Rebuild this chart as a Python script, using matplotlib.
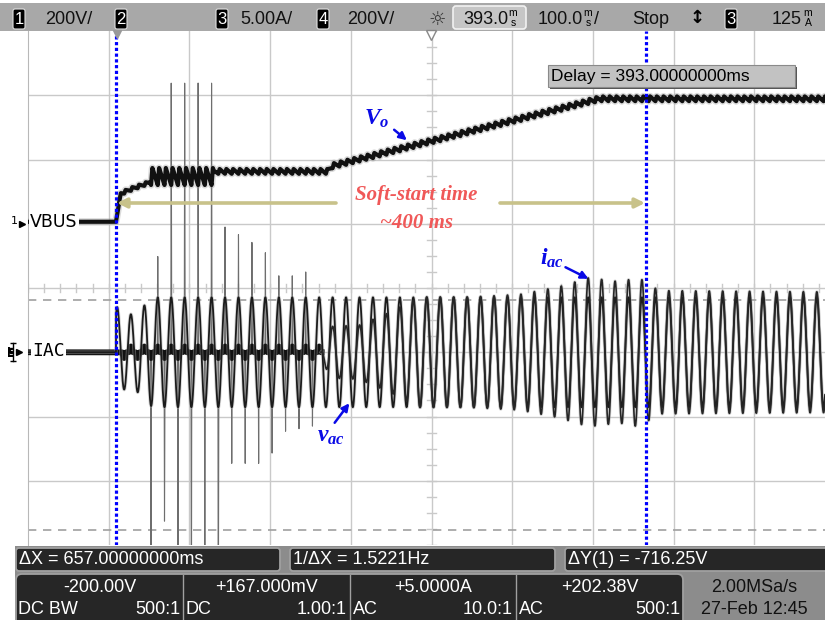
import numpy as np
import matplotlib
matplotlib.use("Agg")
import matplotlib.pyplot as plt
from matplotlib.patches import Rectangle, FancyBboxPatch, FancyArrowPatch

plt.rcParams['font.family'] = ['Liberation Sans', 'DejaVu Sans']
plt.rcParams['mathtext.fontset'] = 'custom'
plt.rcParams['mathtext.it'] = 'Liberation Serif:italic:bold'
plt.rcParams['mathtext.rm'] = 'Liberation Serif:bold'

# ---- scope settings ----
TIME_PER_DIV = 100.0      # ms/div
DELAY_MS = 393.0
SCREEN_LEFT = -109.0      # ms, relative to trigger
N_DIV_X = 9.876           # visible horizontal divisions
LINE_FREQ = 60.0          # Hz
CREST_T = 1.8             # ms, first line crest after trigger
HALF_CYCLE = 1000.0 / LINE_FREQ / 2.0

CH1_SCALE, CH1_POS = 200.0, 1.03      # VBUS, V/div, ground position (div)
CH3_SCALE, CH4_SCALE, CH34_POS = 5.0, 200.0, -1.0

# ---- VBUS: mean level and 120 Hz ripple (peak-peak) ----
vbus_t = [-109, 0, 6, 20, 41, 43, 120, 124, 262, 268, 599, 880]
vbus_mean = [0, 0, 88, 103, 122, 141, 141, 157, 157, 174, 383, 383]
vbus_rip_t = [0, 5, 41, 43, 120, 124, 880]
vbus_rip = [0, 10, 10, 53, 53, 15, 15]

# ---- vac crest amplitude (V) ----
vac_t = [0, 6, 25, 45, 880]
vac_pk = [150, 115, 120, 171, 171]

# ---- iac crest amplitude (A) during soft start ----
iac_t = [254, 264, 301, 339, 376, 438, 500, 549, 586, 623, 648, 673, 880]
iac_pk = [0, 2.0, 2.1, 3.1, 4.3, 4.3, 4.5, 5.1, 5.8, 5.5, 5.8, 4.8, 4.7]

# ---- inrush current spikes: half-cycle index after trigger, height (A) ----
spike_half = [6, 8, 10, 12, 14, 16, 18, 20, 22, 24, 26, 28,
              5, 7, 9, 11, 13, 15, 17, 19, 21, 23, 25, 27, 29]
spike_amp = [7.0, 20.5, 20.5, 20.5, 20.5, 9.3, 8.7, 8.1, 7.3, 5.5, 5.5, 5.8,
             -22, -12.7, -22, -22, -22, -22, -8.2, -8.2, -8.2, -7.4, -5.7, -5.5, -5.3]
blip_amp = 0.45           # small current pulses while PFC idles (A)
IDLE_END = 254.0

# cursors
cursor_x1, cursor_dx = 0.0, 657.0
cursor_y1, cursor_dy = -243.0, -716.25

# channel readouts
ch_offsets = ["-200.00V", "+167.000mV", "+5.0000A", "+202.38V"]
ch_coupling = ["DC BW", "DC", "AC", "AC"]
ch_probe = ["500:1", "1.00:1", "10.0:1", "500:1"]

# ---- waveforms ----
t = np.arange(SCREEN_LEFT, SCREEN_LEFT + N_DIV_X * TIME_PER_DIV + 0.01, 0.02)
phase = 2 * np.pi * LINE_FREQ * (t - CREST_T) / 1000.0

frac = np.mod((t - CREST_T) / HALF_CYCLE, 1.0)
tooth = np.where(frac < 0.2, frac / 0.2, 1 - (frac - 0.2) / 0.8) - 0.5
vbus = np.interp(t, vbus_t, vbus_mean) + np.interp(t, vbus_rip_t, vbus_rip, left=0) * tooth

vac = np.interp(t, vac_t, vac_pk, left=0) * np.cos(phase)

blips = np.zeros_like(t)
for h in range(1, int(IDLE_END / HALF_CYCLE) + 1):
    tc = CREST_T + h * HALF_CYCLE
    blips += blip_amp * (-1) ** h * np.exp(-0.5 * ((t - tc) / 0.9) ** 2)
blips[t > IDLE_END] = 0
spikes = np.zeros_like(t)
for h, a in zip(spike_half, spike_amp):
    tc = CREST_T + h * HALF_CYCLE
    spikes += a * np.exp(-0.5 * ((t - tc) / 0.22) ** 2)
iac_sine = np.interp(t, iac_t, iac_pk, left=0) * np.cos(phase)

vbus_div = vbus / CH1_SCALE + CH1_POS
vac_div = vac / CH4_SCALE + CH34_POS
iac_div = iac_sine / CH3_SCALE + CH34_POS
base_div = blips / CH3_SCALE + CH34_POS
spike_div = (blips + spikes) / CH3_SCALE + CH34_POS

# ---- figure ----
W, H = 825, 620
fig = plt.figure(figsize=(W / 100, H / 100), dpi=100)
fig.patch.set_facecolor('white')

top_px, bot_px, left_px = 31, 545, 28
ax = fig.add_axes([left_px / W, (H - bot_px) / H, (W - left_px) / W, (bot_px - top_px) / H])
x_right = SCREEN_LEFT + N_DIV_X * TIME_PER_DIV
ax.set_xlim(SCREEN_LEFT, x_right)
ax.set_ylim(-4, 4)
ax.set_xticks([]); ax.set_yticks([])
for s in ['top', 'right', 'bottom']:
    ax.spines[s].set_visible(False)
ax.spines['left'].set_color('#b8b8b8')

grid_c = '#c9c9c9'
for k in range(1, 10):
    ax.axvline(SCREEN_LEFT + k * TIME_PER_DIV, color=grid_c, lw=1.0, zorder=0)
for k in range(-3, 4):
    ax.axhline(k, color=grid_c, lw=1.0, zorder=0)
xc = SCREEN_LEFT + 5 * TIME_PER_DIV
for xm in np.arange(SCREEN_LEFT, x_right, TIME_PER_DIV / 5):
    ax.plot([xm, xm], [-0.06, 0.06], color=grid_c, lw=1.0, zorder=0)
for ym in np.arange(-4, 4.01, 0.25):
    ax.plot([xc - 5, xc + 5], [ym, ym], color=grid_c, lw=1.0, zorder=0)

# Y cursors (channel 1 units)
for yv in [cursor_y1, cursor_y1 + cursor_dy]:
    ax.axhline(yv / CH1_SCALE + CH1_POS, color='#a0a0a0', lw=1.2, dashes=(5, 4), zorder=1)

# traces
idle = t <= IDLE_END + 1
ax.plot(t[idle], spike_div[idle], color='#6e6e6e', lw=0.8, zorder=2)
ax.plot(t, vbus_div, color='#999999', lw=5.2, alpha=0.35, zorder=3, solid_joinstyle='round')
ax.plot(t, vbus_div, color='#111111', lw=3.0, zorder=3, solid_joinstyle='round')
ax.plot(t[idle], base_div[idle], color='#111111', lw=4.2, zorder=3)
ax.plot(t, vac_div, color='#aaaaaa', lw=2.6, alpha=0.45, zorder=3)
ax.plot(t, vac_div, color='#1c1c1c', lw=1.3, zorder=4)
busy = t >= IDLE_END
ax.plot(t[busy], iac_div[busy], color='#aaaaaa', lw=2.4, alpha=0.45, zorder=3)
ax.plot(t[busy], iac_div[busy], color='#262626', lw=1.2, zorder=4)

# X cursors
for xv in [cursor_x1, cursor_x1 + cursor_dx]:
    ax.axvline(xv, color='#0000ff', lw=2.3, dashes=(1.0, 0.8), zorder=6)

# ---- overlay in pixel space ----
ov = fig.add_axes([0, 0, 1, 1], facecolor='none')
ov.set_xlim(0, W); ov.set_ylim(H, 0); ov.axis('off')

# header bar
ov.add_patch(Rectangle((0, 3), W, top_px - 3, fc='#a8a8a8', ec='none'))
def num_box(x, s):
    ov.add_patch(FancyBboxPatch((x, 9), 12, 20, boxstyle='round,pad=0,rounding_size=2',
                                fc='black', ec='#e0e0e0', lw=0.8))
    ov.text(x + 6, 19.5, s, color='white', fontsize=12, ha='center', va='center')
def stacked(x, a, b):
    ov.text(x, 13, a, fontsize=7.5, ha='center', va='center')
    ov.text(x, 23, b, fontsize=7.5, ha='center', va='center')

hdr = dict(fontsize=13, va='center', color='#111111')
num_box(13, '1'); ov.text(45, 19, '200V/', **hdr)
num_box(115, '2')
num_box(216, '3'); ov.text(240, 19, '5.00A/', **hdr)
num_box(317, '4'); ov.text(347, 19, '200V/', **hdr)
ov.text(437, 19, '\u263c', fontsize=14, ha='center', va='center', color='#333333',
        family='DejaVu Sans')
ov.add_patch(FancyBboxPatch((453, 6), 73, 23, boxstyle='round,pad=0,rounding_size=3',
                            fc='#c6c6c6', ec='#f2f2f2', lw=1.2))
ov.text(463, 19, f'{DELAY_MS:.1f}', **hdr); stacked(513, 'm', 's')
ov.text(538, 19, f'{TIME_PER_DIV:.1f}', **hdr); stacked(588, 'm', 's')
ov.text(594, 19, '/', **hdr)
ov.text(632, 19, 'Stop', **hdr)
ov.text(697, 18, '\u2195', fontsize=13, ha='center', va='center', family='DejaVu Sans',
        fontweight='bold')
num_box(725, '3')
ov.text(772, 19, '125', **hdr); stacked(808, 'm', 'A')

# top markers
ov.plot([117], [34], marker='v', ms=6, color='#999999', zorder=7)
ov.plot([431], [35], marker='v', ms=7, mfc='white', mec='#888888', zorder=7)

# delay box
ov.add_patch(Rectangle((550, 67), 247, 22, fc='#555555', ec='none', zorder=7))
ov.add_patch(Rectangle((548, 65), 247, 22, fc='#c2c2c2', ec='#8a8a8a', lw=0.8, zorder=7))
ov.text(551, 76.5, f'Delay = {DELAY_MS:.8f}ms', fontsize=12.5, va='center', zorder=8)

# channel labels
lab_bg = dict(fc='white', ec='none', pad=1.0)
ov.text(30, 222, 'VBUS', fontsize=12.5, va='center', family='DejaVu Sans', bbox=lab_bg, zorder=8)
ov.text(14, 221, '1', fontsize=8, va='center', ha='center', family='DejaVu Sans', zorder=8)
ov.plot([22], [224], marker='>', ms=4, color='black', zorder=8)
ov.text(32, 351, 'IAC', fontsize=13, va='center', family='DejaVu Sans Mono', bbox=lab_bg, zorder=8)
ov.text(11, 352, '3', fontsize=7, va='center', ha='center', family='DejaVu Sans', zorder=8,
        bbox=dict(fc='black', ec='none', pad=0.3), color='white')
ov.plot([19], [352], marker='>', ms=4.5, color='black', zorder=8)
ov.plot([13, 13], [343, 361], color='black', lw=1.0, zorder=8)
ov.plot([13, 13], [343, 361], ls='none', marker='_', ms=5, color='black', zorder=8)

# annotations
blue = '#0a0ae6'
ov.text(364, 119, r'$V_o$', fontsize=17, color=blue, va='center', zorder=9)
ov.add_patch(FancyArrowPatch((392, 128), (409, 142), arrowstyle='-|>', mutation_scale=11,
                             color=blue, lw=1.8, zorder=9))
ov.text(540, 258, r'$i_{ac}$', fontsize=17, color=blue, va='center', zorder=9)
ov.add_patch(FancyArrowPatch((563, 266), (591, 280), arrowstyle='-|>', mutation_scale=11,
                             color=blue, lw=1.8, zorder=9))
ov.text(317, 436, r'$v_{ac}$', fontsize=17, color=blue, va='center', zorder=9)
ov.add_patch(FancyArrowPatch((333, 425), (351, 401), arrowstyle='-|>', mutation_scale=11,
                             color=blue, lw=1.8, zorder=9))

red = '#f05858'
ov.text(416, 195, 'Soft-start time', fontsize=15, color=red, ha='center', va='center',
        family='Liberation Serif', fontstyle='italic', fontweight='bold', zorder=9)
ov.text(416, 223, '~400 ms', fontsize=15, color=red, ha='center', va='center',
        family='Liberation Serif', fontstyle='italic', fontweight='bold', zorder=9)
olive = '#c8c28a'
ov.add_patch(FancyArrowPatch((336, 203), (117, 203), arrowstyle='-|>', mutation_scale=14,
                             color=olive, lw=2.6, zorder=5, shrinkA=0, shrinkB=0))
ov.add_patch(FancyArrowPatch((500, 203), (645, 203), arrowstyle='-|>', mutation_scale=14,
                             color=olive, lw=2.6, zorder=5, shrinkA=0, shrinkB=0))

# ---- bottom readout panel ----
ov.add_patch(Rectangle((15, bot_px + 1), W - 15, H - bot_px, fc='#8c8c8c', ec='none', zorder=7))
box_fc, box_ec = '#262626', '#a0a0a0'
def dark_box(x0, y0, w, h, r=3):
    ov.add_patch(FancyBboxPatch((x0, y0), w, h, boxstyle=f'round,pad=0,rounding_size={r}',
                                fc=box_fc, ec=box_ec, lw=1.3, zorder=8))
txt = dict(fontsize=13, color='white', va='center', zorder=9)
dark_box(16, 548, 264, 23)
ov.text(19, 560, f'\u0394X = {cursor_dx:.8f}ms', **txt)
dark_box(290, 548, 265, 23)
ov.text(293, 560, f'1/\u0394X = {1000.0 / cursor_dx:.4f}Hz', **txt)
dark_box(565, 548, 280, 23)
ov.text(568, 560, f'\u0394Y(1) = {cursor_dy:.2f}V', **txt)

dark_box(16, 574, 667, 60, r=6)
cells = [16, 183, 350, 516, 683]
for i in range(4):
    x0, x1 = cells[i], cells[i + 1]
    if i > 0:
        ov.plot([x0, x0], [575, 620], color=box_ec, lw=1.0, zorder=9)
    ov.text((x0 + x1) / 2, 587, ch_offsets[i], ha='center', **txt)
    ov.text(x0 + 2.5, 609, ch_coupling[i], ha='left', **txt)
    ov.text(x1 - 3, 609, ch_probe[i], ha='right', **txt)
ov.text(754, 588, '2.00MSa/s', fontsize=13, ha='center', va='center', color='#111111', zorder=9)
ov.text(754, 609, '27-Feb 12:45', fontsize=13, ha='center', va='center', color='#111111', zorder=9)

fig.savefig('out.png', dpi=100)
